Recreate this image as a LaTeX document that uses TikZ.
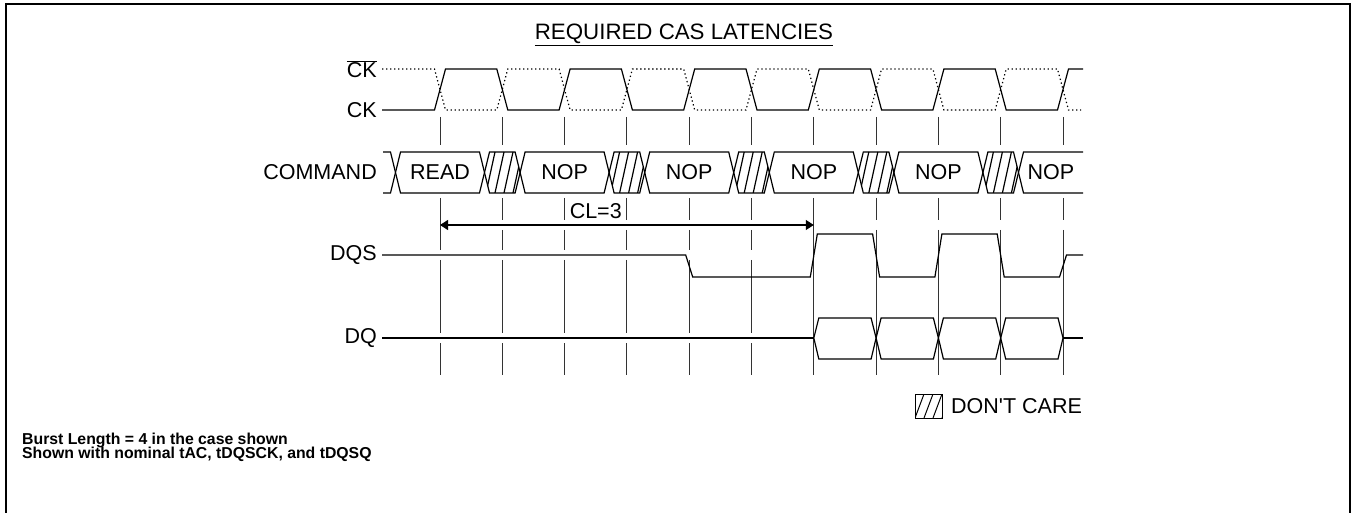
\documentclass[tikz,border=0pt]{standalone}
\usepackage{fontspec}
\setmainfont{Liberation Sans}
\usetikzlibrary{arrows.meta}
\tikzstyle{wave}=[line width=1.2pt,line join=miter]
\tikzstyle{inverse}=[line width=1.2pt,dash pattern=on 1.3pt off 2.7pt]
\tikzstyle{edgeline}=[line width=0.9pt,black!80]
\tikzstyle{signame}=[anchor=east,inner sep=0pt,font=\fontsize{21.5}{25}\selectfont]
\tikzstyle{command}=[inner sep=0pt,font=\fontsize{21.5}{25}\selectfont]
\tikzstyle{note}=[anchor=base west,inner sep=0pt,font=\fontsize{15.8}{18}\selectfont\bfseries]
\tikzstyle{latency}=[{Triangle[length=8pt,width=10pt]}-{Triangle[length=8pt,width=10pt]},line width=1.2pt]

\begin{document}
\begin{tikzpicture}[x=1pt,y=-1pt]
    \useasboundingbox (0,0) rectangle (1353,513);
    \draw[line width=2.2pt] (6,520) -- (6,4) -- (1350,4) -- (1350,520);

    \node (title) at (684,40) [command,anchor=base,font=\fontsize{22.3}{26}\selectfont] {\underline{REQUIRED CAS LATENCIES}};

    \node (ckbar) at (377,69) [signame] {$\overline{\mbox{CK}}$};
    \node (ck) at (377,110) [signame] {CK};
    \node (cmd) at (377,172.5) [signame] {COMMAND};
    \node (dqs) at (377,255) [signame] {DQS};
    \node (dq) at (377,338) [signame] {DQ};

    \foreach \i in {0,...,10} {
        \pgfmathsetmacro\tx{440+62.3*\i}
        \draw[edgeline] (\tx,117) -- (\tx,145);
        \ifnum\i=6
            \draw[edgeline] (\tx,198) -- (\tx,375);
        \else\ifnum\i>6
            \draw[edgeline] (\tx,198) -- (\tx,220);
            \draw[edgeline] (\tx,230) -- (\tx,375);
        \else
            \ifnum\i=0
                \draw[edgeline] (\tx,198) -- (\tx,250);
            \else
                \draw[edgeline] (\tx,198) -- (\tx,220);
                \draw[edgeline] (\tx,230) -- (\tx,250);
            \fi
            \draw[edgeline] (\tx,260) -- (\tx,333);
            \draw[edgeline] (\tx,343) -- (\tx,375);
        \fi\fi
    }

    \draw[wave] (382,110) foreach \i in {0,2,...,8} {
        -- ({440+62.3*\i-5.5},110) -- ({440+62.3*\i+5.5},69)
        -- ({440+62.3*(\i+1)-5.5},69) -- ({440+62.3*(\i+1)+5.5},110)
    } -- ({440+62.3*10-5.5},110) -- ({440+62.3*10+5.5},69) -- (1083,69);
    \draw[inverse] (382,69) foreach \i in {0,2,...,8} {
        -- ({440+62.3*\i-5.5},69) -- ({440+62.3*\i+5.5},110)
        -- ({440+62.3*(\i+1)-5.5},110) -- ({440+62.3*(\i+1)+5.5},69)
    } -- ({440+62.3*10-5.5},69) -- ({440+62.3*10+5.5},110) -- (1081,110);

    \draw[wave] (383,152) -- (390.5,152) -- (395.5,172.5);
    \draw[wave] (383,193) -- (390.5,193) -- (395.5,172.5);
    \foreach \k/\op in {0/READ,2/NOP,4/NOP,6/NOP,8/NOP} {
        \pgfmathsetmacro\cx{440+62.3*\k}
        \draw[wave] ({\cx-44.5},172.5) -- ({\cx-39.5},152) -- ({\cx+39.5},152) -- ({\cx+44.5},172.5)
            -- ({\cx+39.5},193) -- ({\cx-39.5},193) -- cycle;
        \node (win\k) at (\cx,172.5) [command] {\op};
        \begin{scope}
            \clip ({\cx+44.5},172.5) -- ({\cx+49.5},152) -- ({\cx+75.1},152) -- ({\cx+80.1},172.5)
                -- ({\cx+75.1},193) -- ({\cx+49.5},193) -- cycle;
            \foreach \d in {46,55,64,73}
                \draw[wave] ({\cx+\d},193) -- ({\cx+\d+9},152);
        \end{scope}
        \draw[wave] ({\cx+44.5},172.5) -- ({\cx+49.5},152) -- ({\cx+75.1},152) -- ({\cx+80.1},172.5)
            -- ({\cx+75.1},193) -- ({\cx+49.5},193) -- cycle;
    }
    \draw[wave] (1083,152) -- (1023.5,152) -- (1018.5,172.5) -- (1023.5,193) -- (1083,193);
    \node (win10) at (1051,172.5) [command] {NOP};

    \coordinate (clstart) at (440,225);
    \coordinate (clend) at ({440+62.3*6},225);
    \draw[latency] (clstart) -- (clend);
    \node (cl) at ({440+62.3*2.5},211) [command] {CL=3};

    \draw[wave] (382,255) -- ({440+62.3*4-3.5},255) -- ({440+62.3*4+3.5},277)
        -- ({440+62.3*6-3.5},277) -- ({440+62.3*6+3.5},234)
        -- ({440+62.3*7-3.5},234) -- ({440+62.3*7+3.5},277)
        -- ({440+62.3*8-3.5},277) -- ({440+62.3*8+3.5},234)
        -- ({440+62.3*9-3.5},234) -- ({440+62.3*9+3.5},277)
        -- ({440+62.3*10-3.5},277) -- ({440+62.3*10+3.5},255) -- (1083,255);

    \draw[wave] (382,338) -- ({440+62.3*6},338);
    \foreach \i in {6,...,9}
        \draw[wave] ({440+62.3*\i},338) -- ({440+62.3*\i+5},318) -- ({440+62.3*(\i+1)-5},318)
            -- ({440+62.3*(\i+1)},338) -- ({440+62.3*(\i+1)-5},359) -- ({440+62.3*\i+5},359) -- cycle;
    \draw[wave] ({440+62.3*10},338) -- (1083,338);

    \begin{scope}
        \clip (915,394) rectangle (942,418);
        \foreach \d in {906,915,924,933,942}
            \draw[line width=1pt] (\d,418) -- (\d+9,394);
    \end{scope}
    \draw[line width=1pt] (915,394) rectangle (942,418);
    \node (dontcare) at (951,406) [command,anchor=west] {DON\textquotesingle T CARE};

    \node (burst) at (22,444) [note] {Burst Length = 4 in the case shown};
    \node (shown) at (22,458) [note] {Shown with nominal tAC, tDQSCK, and tDQSQ};
\end{tikzpicture}
\end{document}
